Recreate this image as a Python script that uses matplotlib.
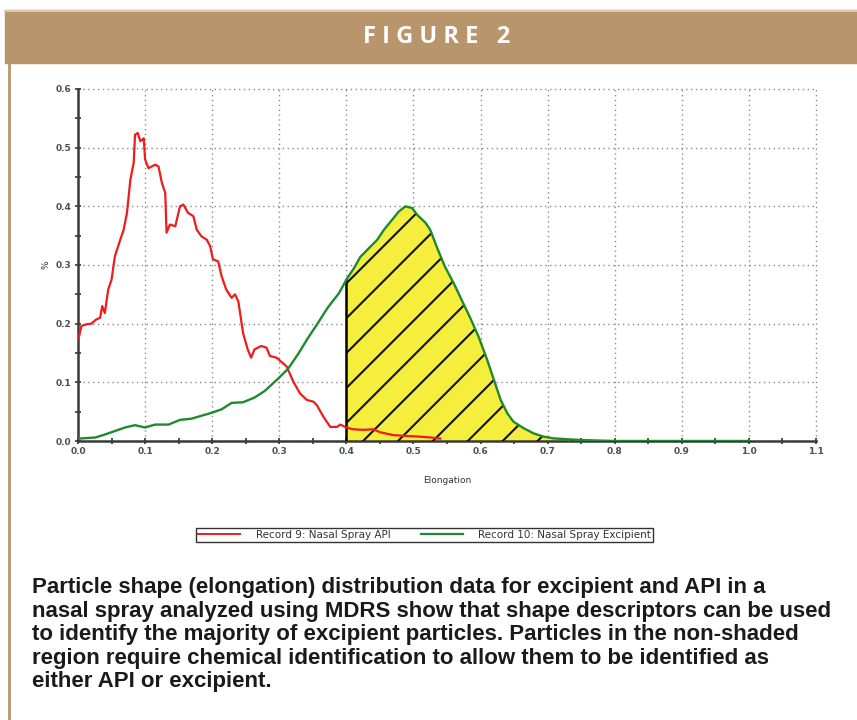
import numpy as np
import matplotlib
matplotlib.use('Agg')
import matplotlib.pyplot as plt
from matplotlib.patches import Rectangle
from matplotlib.lines import Line2D

# Elongation distribution, API (red)
api_x = [0.0, 0.002, 0.005, 0.013, 0.02, 0.027, 0.033, 0.036, 0.04, 0.045, 0.05,
         0.055, 0.063, 0.068, 0.073, 0.078, 0.083, 0.085, 0.089, 0.093, 0.098,
         0.10, 0.105, 0.11, 0.115, 0.12, 0.125, 0.13, 0.132, 0.137, 0.145, 0.152,
         0.157, 0.164, 0.172, 0.177, 0.184, 0.192, 0.197, 0.201, 0.209, 0.214,
         0.221, 0.229, 0.234, 0.239, 0.246, 0.253, 0.258, 0.263, 0.273, 0.281,
         0.286, 0.296, 0.30, 0.311, 0.321, 0.331, 0.341, 0.351, 0.356, 0.366,
         0.376, 0.386, 0.391, 0.40, 0.41, 0.425, 0.44, 0.45, 0.47, 0.49, 0.51,
         0.525, 0.54]
api_y = [0.176, 0.18, 0.196, 0.199, 0.20, 0.207, 0.21, 0.23, 0.218, 0.258, 0.275,
         0.315, 0.343, 0.36, 0.389, 0.445, 0.474, 0.522, 0.525, 0.511, 0.516,
         0.48, 0.465, 0.468, 0.471, 0.468, 0.44, 0.423, 0.355, 0.369, 0.366, 0.40,
         0.403, 0.389, 0.383, 0.36, 0.349, 0.343, 0.332, 0.31, 0.306, 0.281,
         0.258, 0.244, 0.25, 0.238, 0.184, 0.156, 0.142, 0.156, 0.162, 0.159,
         0.145, 0.142, 0.138, 0.127, 0.101, 0.081, 0.07, 0.067, 0.061, 0.041,
         0.024, 0.024, 0.028, 0.023, 0.02, 0.019, 0.02, 0.015, 0.01, 0.0085, 0.0074,
         0.006, 0.004]

# Elongation distribution, excipient (green)
exc_x = [0.0, 0.026, 0.04, 0.055, 0.07, 0.085, 0.10, 0.115, 0.135, 0.152, 0.169,
         0.184, 0.199, 0.214, 0.229, 0.246, 0.263, 0.278, 0.298, 0.313, 0.328,
         0.343, 0.357, 0.372, 0.389, 0.401, 0.411, 0.421, 0.433, 0.446, 0.456,
         0.466, 0.478, 0.488, 0.498, 0.506, 0.518, 0.525, 0.535, 0.547, 0.56,
         0.572, 0.585, 0.597, 0.61, 0.62, 0.63, 0.64, 0.649, 0.664, 0.679, 0.694,
         0.709, 0.729, 0.749, 0.80, 0.90, 1.00]
exc_y = [0.004, 0.006, 0.011, 0.017, 0.023, 0.027, 0.023, 0.028, 0.028, 0.036, 0.038,
         0.043, 0.048, 0.054, 0.065, 0.066, 0.074, 0.085, 0.106, 0.123, 0.148,
         0.176, 0.20, 0.227, 0.252, 0.277, 0.294, 0.314, 0.328, 0.343, 0.36,
         0.374, 0.391, 0.40, 0.397, 0.385, 0.372, 0.36, 0.33, 0.297, 0.269,
         0.24, 0.209, 0.178, 0.138, 0.104, 0.07, 0.047, 0.033, 0.022, 0.013, 0.0074,
         0.0045, 0.003, 0.0017, 0.0, 0.0, 0.0]

cutoff = 0.4          # shape-only classification threshold
hatch_step = 0.052    # spacing of hatch lines along the baseline
hatch_slope = 1.0     # slope of hatch lines in pixels

caption = ("Particle shape (elongation) distribution data for excipient and API in a\n"
           "nasal spray analyzed using MDRS show that shape descriptors can be used\n"
           "to identify the majority of excipient particles. Particles in the non-shaded\n"
           "region require chemical identification to allow them to be identified as\n"
           "either API or excipient.")

tan = '#b8956a'
tick_col = '#4b4f58'

fig = plt.figure(figsize=(8.57, 7.2), dpi=100)

# header band and frame
fig.patches.append(Rectangle((5 / 857, 1 - 63 / 720), 1, 53 / 720,
                             transform=fig.transFigure, color=tan, zorder=0))
fig.add_artist(Line2D([5 / 857, 1], [1 - 11 / 720] * 2, color='#dcc8a6', lw=1.5))
fig.add_artist(Line2D([9 / 857] * 2, [0, 1 - 63 / 720], color=tan, lw=2))
fig.text(0.51, 1 - 37 / 720, 'F I G U R E   2', color='white', fontsize=17,
         fontweight='bold', ha='center', va='center', family='Open Sans')

ax = fig.add_axes([78 / 857, 1 - 441 / 720, (816 - 78) / 857, (441 - 89) / 720])

ex = np.array(exc_x)
ey = np.array(exc_y)
ax.plot(api_x, api_y, color='#ee1c1c', lw=1.6, zorder=4)

# shaded region under the excipient curve beyond the cutoff
mask = (ex >= cutoff) & (ex <= 0.75)
sx = np.concatenate([[cutoff], ex[mask]])
sy = np.interp(sx, ex, ey)
poly = ax.fill_between(sx, sy, 0, color='#f6ee3c', lw=0, zorder=2)
ax.plot([cutoff, cutoff], [0, sy[0]], color='black', lw=1.8, zorder=3)
clip = poly.get_paths()[0]

# hatch lines, slope given in pixels -> converted to data units
data_slope = hatch_slope * (671 / 586.7)
for c in np.arange(cutoff + 0.025 - 8 * hatch_step, 0.75, hatch_step):
    hx = np.array([c, c + 0.6])
    ln, = ax.plot(hx, (hx - c) * data_slope, color='#111111', lw=1.5, zorder=3)
    ln.set_clip_path(clip, ax.transData)

ax.plot(exc_x, exc_y, color='#1e8a2e', lw=1.7, zorder=5)

ax.set_xlim(0, 1.1)
ax.set_ylim(0, 0.6)
ax.set_xticks(np.arange(0, 1.11, 0.1))
ax.set_xticks(np.arange(0.05, 1.1, 0.1), minor=True)
ax.set_yticks(np.arange(0, 0.61, 0.1))
ax.set_yticks(np.arange(0.05, 0.6, 0.1), minor=True)
ax.set_xticklabels(['%.1f' % v for v in np.arange(0, 1.11, 0.1)])
ax.set_yticklabels(['%.1f' % v for v in np.arange(0, 0.61, 0.1)])
ax.tick_params(which='both', direction='inout', length=5, width=1.2, color='#333333',
               labelsize=6.5, labelcolor=tick_col, pad=2)
for lab in ax.get_xticklabels() + ax.get_yticklabels():
    lab.set_fontweight('bold')
ax.grid(True, which='major', color='#8a8a8a', lw=1, linestyle=(0, (1, 2.5)))
for gl in ax.get_xgridlines() + ax.get_ygridlines():
    gl.set_clip_on(False)
ax.set_axisbelow(True)
for s in ['top', 'right']:
    ax.spines[s].set_visible(False)
for s in ['left', 'bottom']:
    ax.spines[s].set_color('#3a3a3a')
    ax.spines[s].set_linewidth(1.8)
ax.set_xlabel('Elongation', fontsize=6.5, color='#333333', labelpad=14)
ax.set_ylabel('%', fontsize=6.5, color='#333333', labelpad=4)

handles = [Line2D([], [], color='#ee1c1c', lw=1.4), Line2D([], [], color='#1e8a2e', lw=1.6)]
leg = fig.legend(handles, ['Record 9: Nasal Spray API', 'Record 10: Nasal Spray Excipient'],
                 loc='center', bbox_to_anchor=(424.5 / 857, 1 - 535 / 720), ncol=2,
                 fontsize=7.5, handlelength=4.1, columnspacing=2.9, handletextpad=1.45,
                 fancybox=False, edgecolor='#333333', borderpad=0.2, framealpha=1,
                 borderaxespad=0)
leg.get_frame().set_linewidth(1)
for t in leg.get_texts():
    t.set_color('#333333')

fig.text(32 / 857, 1 - 577 / 720, caption, fontsize=16, fontweight='bold',
         family='Liberation Sans', color='#1a1a1a',
         va='top', ha='left', linespacing=1.16)

fig.savefig('out.png', dpi=100)
